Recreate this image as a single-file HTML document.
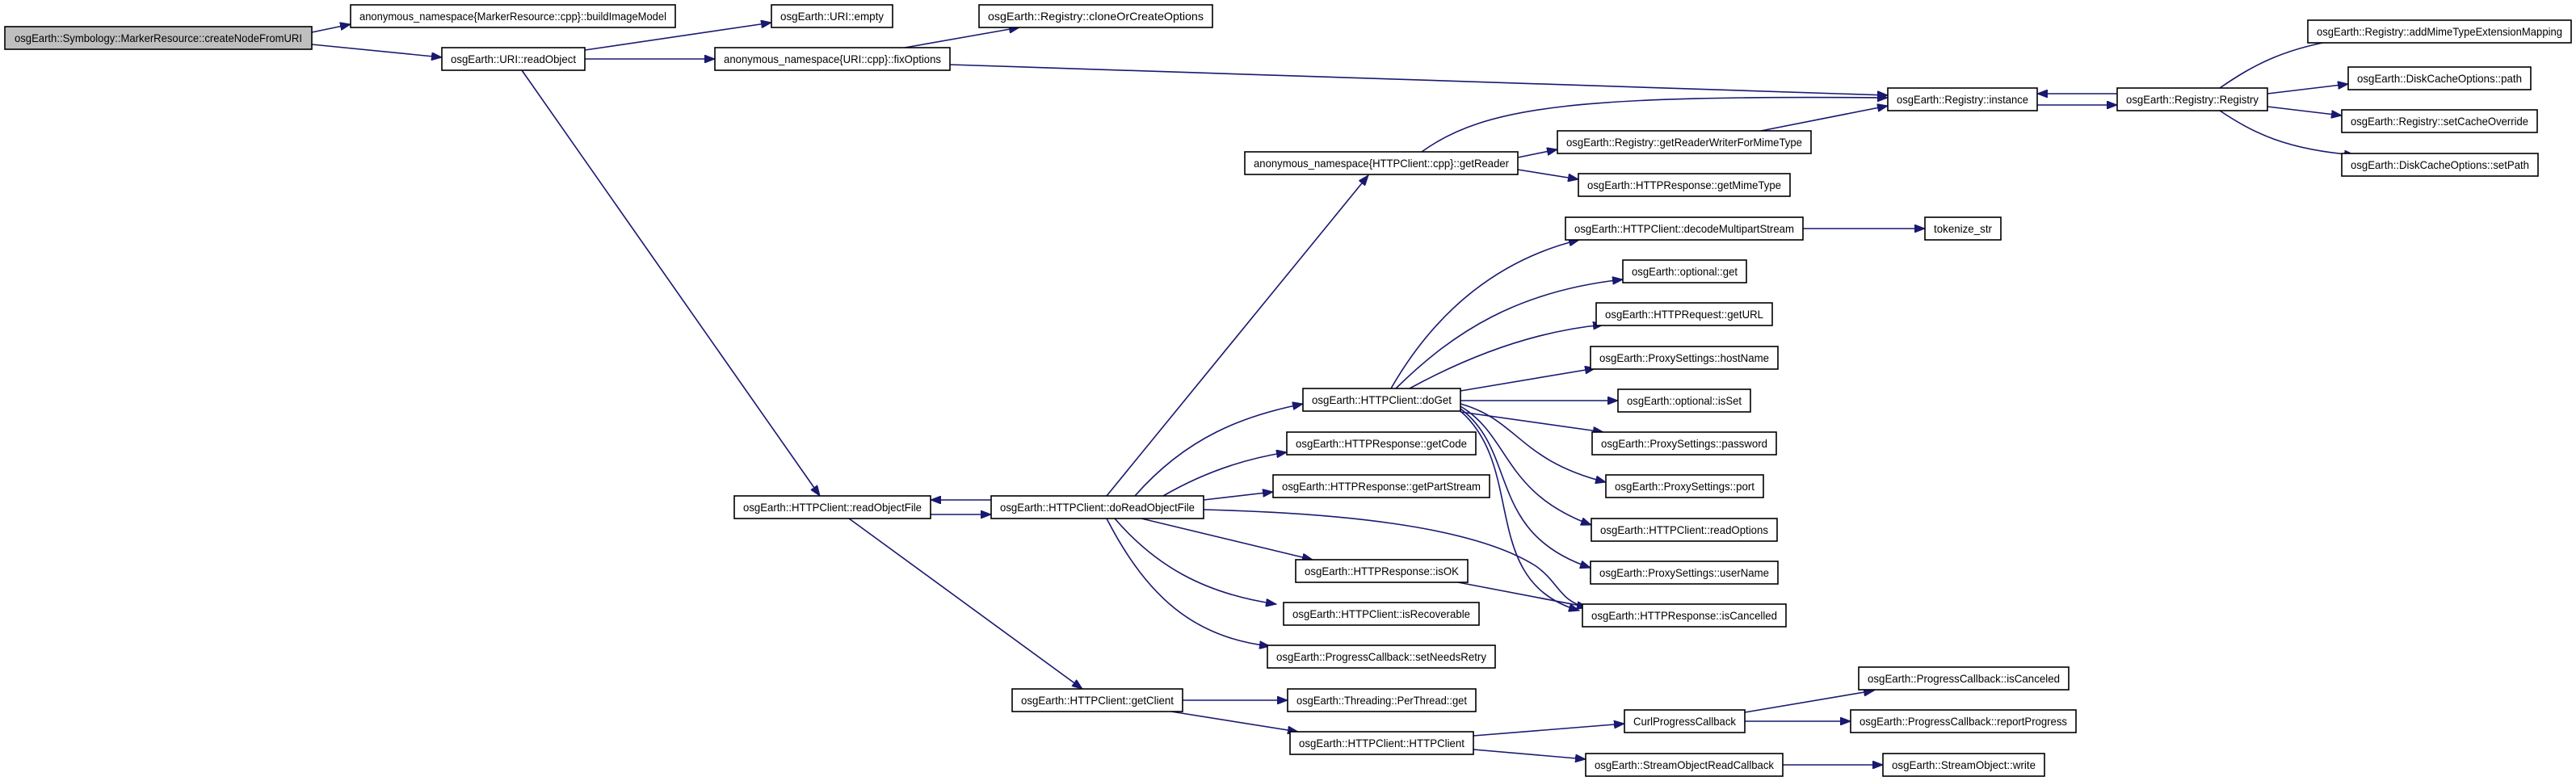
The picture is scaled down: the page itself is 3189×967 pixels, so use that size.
<!DOCTYPE html>
<html><head><meta charset="utf-8"><style>
html,body{margin:0;padding:0;background:#fff;}
svg{display:block;}
text{font-family:"Liberation Sans",sans-serif;font-size:14px;fill:#000;text-anchor:middle;}
rect{fill:#fff;stroke:#000;stroke-width:1.6;}
path{fill:none;stroke:#191970;stroke-width:1.6;}
</style></head><body>
<svg width="3189" height="967" viewBox="0 0 3189 967" xmlns="http://www.w3.org/2000/svg">
<defs>
<marker id="a" markerUnits="userSpaceOnUse" markerWidth="14" markerHeight="10" refX="13" refY="5" orient="auto">
<path d="M0,0 L13,5 L0,10 Z" style="fill:#191970;stroke:#191970;stroke-width:1"/>
</marker>
</defs>
<g marker-end="url(#a)">
<path d="M386,40 L434,30"/>
<path d="M386,55 L547,71"/>
<path d="M724,62 L955,28"/>
<path d="M724,73 L885,73"/>
<path d="M646,87 L1015,614"/>
<path d="M1120,59 L1262,34"/>
<path d="M1176,80 L2337,118"/>
<path d="M1760,188 C1840,130 1960,118 2337,121"/>
<path d="M1879,195 L1928,185"/>
<path d="M1879,210 L1954,222"/>
<path d="M2180,162 L2337,131"/>
<path d="M2522,130 L2621,130"/>
<path d="M2621,116 L2522,116"/>
<path d="M2748,109 C2790,80 2830,58 2910,47"/>
<path d="M2807,116 L2907,104"/>
<path d="M2807,132 L2899,143"/>
<path d="M2748,137 C2790,165 2830,185 2915,192"/>
<path d="M1370,614 L1694,217"/>
<path d="M1405,614 C1470,540 1540,515 1613,500"/>
<path d="M1440,614 C1490,585 1540,568 1593,560"/>
<path d="M1490,619 L1576,609"/>
<path d="M1490,631 C1650,635 1820,650 1900,700 C1930,720 1930,745 1965,752"/>
<path d="M1413,642 L1625,693"/>
<path d="M1380,642 C1430,700 1490,735 1580,748"/>
<path d="M1370,642 C1420,740 1480,790 1572,800"/>
<path d="M1227,619 L1152,619"/>
<path d="M1152,637 L1227,637"/>
<path d="M1051,642 L1340,853"/>
<path d="M1464,867 L1594,867"/>
<path d="M1450,881 L1607,906"/>
<path d="M1824,911 L2011,896"/>
<path d="M1824,928 L1963,940"/>
<path d="M2160,882 L2320,855"/>
<path d="M2160,893 L2291,893"/>
<path d="M2207,947 L2331,947"/>
<path d="M2232,283 L2383,283"/>
<path d="M1722,481 C1780,380 1860,320 1955,297"/>
<path d="M1728,481 C1800,410 1880,360 2009,346"/>
<path d="M1745,481 C1820,440 1900,410 1985,402"/>
<path d="M1808,484 L1975,456"/>
<path d="M1808,496 L2003,496"/>
<path d="M1808,510 L1985,535"/>
<path d="M1808,500 C1880,520 1880,570 1988,597"/>
<path d="M1808,503 C1870,540 1860,610 1970,650"/>
<path d="M1808,506 C1880,560 1840,660 1969,703"/>
<path d="M1808,509 C1890,580 1830,720 1955,756"/>
<path d="M1805,721 L1988,756"/>
</g>
<g>
<rect x="6" y="33" width="380" height="28" style="fill:#bfbfbf"/>
<text x="196" y="52" textLength="356" lengthAdjust="spacingAndGlyphs">osgEarth::Symbology::MarkerResource::createNodeFromURI</text>
<rect x="434" y="6" width="402" height="28"/>
<text x="635" y="25" textLength="380" lengthAdjust="spacingAndGlyphs">anonymous_namespace{MarkerResource::cpp}::buildImageModel</text>
<rect x="547" y="59" width="177" height="28"/>
<text x="635.5" y="78" textLength="155" lengthAdjust="spacingAndGlyphs">osgEarth::URI::readObject</text>
<rect x="955" y="6" width="150" height="28"/>
<text x="1030" y="25" textLength="128" lengthAdjust="spacingAndGlyphs">osgEarth::URI::empty</text>
<rect x="885" y="59" width="291" height="28"/>
<text x="1030.5" y="78" textLength="269" lengthAdjust="spacingAndGlyphs">anonymous_namespace{URI::cpp}::fixOptions</text>
<rect x="1212" y="6" width="289" height="28"/>
<text x="1356.5" y="25" textLength="267" lengthAdjust="spacingAndGlyphs">osgEarth::Registry::cloneOrCreateOptions</text>
<rect x="2337" y="109" width="185" height="28"/>
<text x="2429.5" y="128" textLength="163" lengthAdjust="spacingAndGlyphs">osgEarth::Registry::instance</text>
<rect x="2621" y="109" width="186" height="28"/>
<text x="2714" y="128" textLength="164" lengthAdjust="spacingAndGlyphs">osgEarth::Registry::Registry</text>
<rect x="2857" y="25" width="326" height="28"/>
<text x="3020" y="44" textLength="304" lengthAdjust="spacingAndGlyphs">osgEarth::Registry::addMimeTypeExtensionMapping</text>
<rect x="2907" y="83" width="226" height="28"/>
<text x="3020" y="102" textLength="204" lengthAdjust="spacingAndGlyphs">osgEarth::DiskCacheOptions::path</text>
<rect x="2899" y="136" width="242" height="28"/>
<text x="3020" y="155" textLength="220" lengthAdjust="spacingAndGlyphs">osgEarth::Registry::setCacheOverride</text>
<rect x="2899" y="190" width="243" height="28"/>
<text x="3020.5" y="209" textLength="221" lengthAdjust="spacingAndGlyphs">osgEarth::DiskCacheOptions::setPath</text>
<rect x="1928" y="162" width="314" height="28"/>
<text x="2085" y="181" textLength="292" lengthAdjust="spacingAndGlyphs">osgEarth::Registry::getReaderWriterForMimeType</text>
<rect x="1541" y="188" width="338" height="28"/>
<text x="1710" y="207" textLength="316" lengthAdjust="spacingAndGlyphs">anonymous_namespace{HTTPClient::cpp}::getReader</text>
<rect x="1954" y="215" width="262" height="28"/>
<text x="2085" y="234" textLength="240" lengthAdjust="spacingAndGlyphs">osgEarth::HTTPResponse::getMimeType</text>
<rect x="1938" y="269" width="294" height="28"/>
<text x="2085" y="288" textLength="272" lengthAdjust="spacingAndGlyphs">osgEarth::HTTPClient::decodeMultipartStream</text>
<rect x="2383" y="269" width="94" height="28"/>
<text x="2430" y="288" textLength="72" lengthAdjust="spacingAndGlyphs">tokenize_str</text>
<rect x="2009" y="322" width="153" height="28"/>
<text x="2085.5" y="341" textLength="131" lengthAdjust="spacingAndGlyphs">osgEarth::optional::get</text>
<rect x="1976" y="375" width="218" height="28"/>
<text x="2085" y="394" textLength="196" lengthAdjust="spacingAndGlyphs">osgEarth::HTTPRequest::getURL</text>
<rect x="1969" y="429" width="232" height="28"/>
<text x="2085" y="448" textLength="210" lengthAdjust="spacingAndGlyphs">osgEarth::ProxySettings::hostName</text>
<rect x="2003" y="482" width="164" height="28"/>
<text x="2085" y="501" textLength="142" lengthAdjust="spacingAndGlyphs">osgEarth::optional::isSet</text>
<rect x="1971" y="535" width="228" height="28"/>
<text x="2085" y="554" textLength="206" lengthAdjust="spacingAndGlyphs">osgEarth::ProxySettings::password</text>
<rect x="1988" y="588" width="195" height="28"/>
<text x="2085.5" y="607" textLength="173" lengthAdjust="spacingAndGlyphs">osgEarth::ProxySettings::port</text>
<rect x="1970" y="642" width="230" height="28"/>
<text x="2085" y="661" textLength="208" lengthAdjust="spacingAndGlyphs">osgEarth::HTTPClient::readOptions</text>
<rect x="1969" y="695" width="232" height="28"/>
<text x="2085" y="714" textLength="210" lengthAdjust="spacingAndGlyphs">osgEarth::ProxySettings::userName</text>
<rect x="1959" y="748" width="252" height="28"/>
<text x="2085" y="767" textLength="230" lengthAdjust="spacingAndGlyphs">osgEarth::HTTPResponse::isCancelled</text>
<rect x="1613" y="481" width="195" height="28"/>
<text x="1710.5" y="500" textLength="173" lengthAdjust="spacingAndGlyphs">osgEarth::HTTPClient::doGet</text>
<rect x="1593" y="535" width="234" height="28"/>
<text x="1710" y="554" textLength="212" lengthAdjust="spacingAndGlyphs">osgEarth::HTTPResponse::getCode</text>
<rect x="1576" y="588" width="268" height="28"/>
<text x="1710" y="607" textLength="246" lengthAdjust="spacingAndGlyphs">osgEarth::HTTPResponse::getPartStream</text>
<rect x="909" y="614" width="243" height="28"/>
<text x="1030.5" y="633" textLength="221" lengthAdjust="spacingAndGlyphs">osgEarth::HTTPClient::readObjectFile</text>
<rect x="1227" y="614" width="263" height="28"/>
<text x="1358.5" y="633" textLength="241" lengthAdjust="spacingAndGlyphs">osgEarth::HTTPClient::doReadObjectFile</text>
<rect x="1604" y="693" width="213" height="28"/>
<text x="1710.5" y="712" textLength="191" lengthAdjust="spacingAndGlyphs">osgEarth::HTTPResponse::isOK</text>
<rect x="1589" y="746" width="242" height="28"/>
<text x="1710" y="765" textLength="220" lengthAdjust="spacingAndGlyphs">osgEarth::HTTPClient::isRecoverable</text>
<rect x="1569" y="799" width="282" height="28"/>
<text x="1710" y="818" textLength="260" lengthAdjust="spacingAndGlyphs">osgEarth::ProgressCallback::setNeedsRetry</text>
<rect x="1253" y="853" width="211" height="28"/>
<text x="1358.5" y="872" textLength="189" lengthAdjust="spacingAndGlyphs">osgEarth::HTTPClient::getClient</text>
<rect x="1594" y="853" width="233" height="28"/>
<text x="1710.5" y="872" textLength="211" lengthAdjust="spacingAndGlyphs">osgEarth::Threading::PerThread::get</text>
<rect x="1597" y="906" width="227" height="28"/>
<text x="1710.5" y="925" textLength="205" lengthAdjust="spacingAndGlyphs">osgEarth::HTTPClient::HTTPClient</text>
<rect x="2011" y="879" width="149" height="28"/>
<text x="2085.5" y="898" textLength="127" lengthAdjust="spacingAndGlyphs">CurlProgressCallback</text>
<rect x="1963" y="933" width="244" height="28"/>
<text x="2085" y="952" textLength="222" lengthAdjust="spacingAndGlyphs">osgEarth::StreamObjectReadCallback</text>
<rect x="2301" y="826" width="260" height="28"/>
<text x="2431" y="845" textLength="238" lengthAdjust="spacingAndGlyphs">osgEarth::ProgressCallback::isCanceled</text>
<rect x="2291" y="879" width="279" height="28"/>
<text x="2430.5" y="898" textLength="257" lengthAdjust="spacingAndGlyphs">osgEarth::ProgressCallback::reportProgress</text>
<rect x="2331" y="933" width="200" height="28"/>
<text x="2431" y="952" textLength="178" lengthAdjust="spacingAndGlyphs">osgEarth::StreamObject::write</text>
</g>
</svg>
</body></html>
